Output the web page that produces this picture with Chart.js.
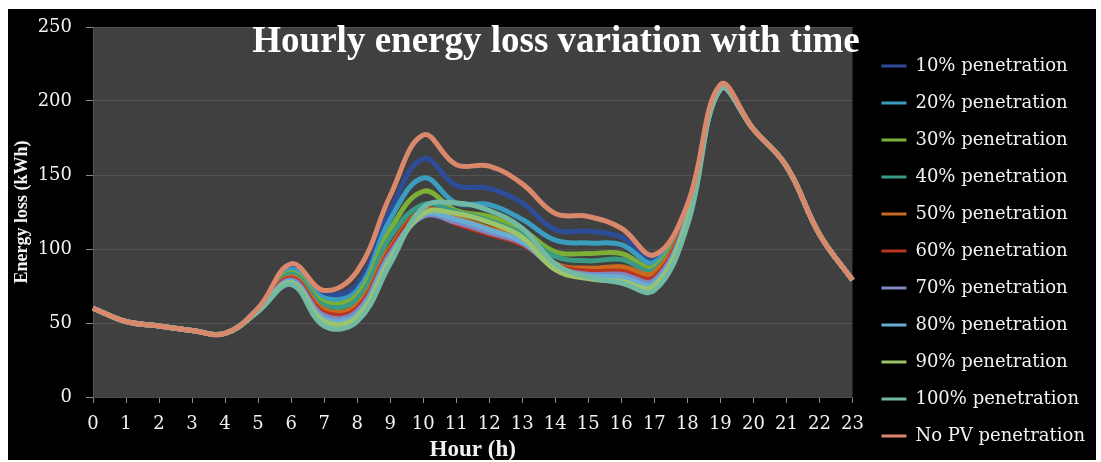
<!DOCTYPE html>
<html>
<head>
<meta charset="utf-8">
<script src="https://cdn.jsdelivr.net/npm/chart.js@4.4.0/dist/chart.umd.min.js"></script>
<style>
  html, body { margin: 0; padding: 0; background: #ffffff; }
  #frame { position: absolute; left: 8px; top: 9px; width: 1088px; height: 451px; background: #000000; }
  #c { display: block; }
</style>
</head>
<body>
<div id="frame"><canvas id="c" width="1088" height="451"></canvas></div>
<script>
// Hour of day (x categories)
const hours = ['0','1','2','3','4','5','6','7','8','9','10','11','12','13','14','15','16','17','18','19','20','21','22','23'];

// Hourly energy loss (kWh) for each PV penetration level
const pen10  = [60,51,48,45,43,60,87,70,76,126,161,143,141,131,113,112,108,94,128,209,181,156,110,79];
const pen20  = [60,51,48,45,43,60,86,67,72,120,148,131,130,120,106,104,103,91,127,209,181,156,110,79];
const pen30  = [60,51,48,45,43,59,84,64,69,113,139,126,122,113,98,97,97,88,126,209,181,156,110,79];
const pen40  = [60,51,48,45,43,59,83,62,66,108,130,125,119,110,95,92,93,86,125,209,181,156,110,79];
const pen50  = [60,51,48,45,43,59,81,59,62,101,126,121,114,107,90,87,88,84,124,209,181,156,110,79];
const pen60  = [60,51,48,45,43,59,80,57,60,99,125,117,110,103,89,85,85,81,123,209,181,156,110,79];
const pen70  = [60,51,48,45,43,58,79,55,58,97,122,118,111,104,88,83,83,79,122,208,181,156,110,79];
const pen80  = [60,51,48,45,43,58,78,53,56,95,123,120,113,105,87,82,81,77,121,208,181,156,110,79];
const pen90  = [60,51,48,45,43,58,77,51,54,93,124,124,118,108,86,80,78,75,119,208,181,156,110,79];
const pen100 = [60,51,48,45,43,58,76,48,51,90,128,131,126,114,90,81,77,72,116,208,181,156,110,79];
const noPV   = [60,51,48,45,43,60,90,72,85,136,177,157,156,144,124,122,114,96,130,211,181,156,110,79];

const seriesNames = ['10% penetration','20% penetration','30% penetration','40% penetration','50% penetration',
  '60% penetration','70% penetration','80% penetration','90% penetration','100% penetration','No PV penetration'];
const seriesData = [pen10, pen20, pen30, pen40, pen50, pen60, pen70, pen80, pen90, pen100, noPV];
const seriesColors = ['#2E4D98','#3A9CBF','#7BAF36','#3A9A84','#CB6A1E','#BA3422',
  '#7F86C0','#6AADD3','#9CC46A','#72B9A4','#D9886B'];

const TITLE_FONT = "'Liberation Serif', 'Times New Roman', serif";
const TEXT_FONT = "'DejaVu Serif', serif";
Chart.defaults.font.family = TEXT_FONT;
Chart.defaults.color = '#f2f2f2';

// Later series are painted on top (No PV uppermost)
const datasets = seriesNames.map((name, i) => ({
  label: name,
  data: seriesData[i],
  borderColor: seriesColors[i],
  backgroundColor: seriesColors[i],
  borderWidth: 5,
  pointRadius: 0,
  pointHoverRadius: 0,
  tension: 0.4,
  fill: false,
  order: seriesNames.length - i
}));

// Dark grey plotting area
const plotBackground = {
  id: 'plotBackground',
  beforeDraw(chart) {
    const { ctx, chartArea: a } = chart;
    ctx.save();
    ctx.fillStyle = '#404040';
    ctx.fillRect(a.left, a.top, a.right - a.left, a.bottom - a.top);
    ctx.restore();
  }
};

// Chart title sitting inside the top of the plot area
const insideTitle = {
  id: 'insideTitle',
  afterDraw(chart) {
    const { ctx } = chart;
    ctx.save();
    ctx.font = "bold 37px " + TITLE_FONT;
    ctx.fillStyle = '#ffffff';
    ctx.textAlign = 'center';
    ctx.textBaseline = 'alphabetic';
    ctx.fillText('Hourly energy loss variation with time', 548, 43);
    ctx.restore();
  }
};

new Chart(document.getElementById('c'), {
  type: 'line',
  data: { labels: hours, datasets },
  plugins: [plotBackground, insideTitle],
  options: {
    responsive: false,
    animation: false,
    devicePixelRatio: 1,
    layout: { padding: { top: 18, right: 1, bottom: -4, left: 0 } },
    plugins: {
      title: { display: false },
      tooltip: { enabled: false },
      legend: {
        display: true,
        position: 'right',
        align: 'end',
        maxWidth: 320,
        labels: {
          boxWidth: 25,
          boxHeight: 3,
          padding: 19,
          color: '#f2f2f2',
          font: { size: 18, family: TEXT_FONT },
          sort: (a, b) => a.datasetIndex - b.datasetIndex,
          generateLabels(chart) {
            return chart.data.datasets.map((ds, i) => ({
              text: ds.label,
              fillStyle: ds.borderColor,
              strokeStyle: ds.borderColor,
              lineWidth: 0,
              fontColor: '#f2f2f2',
              hidden: false,
              datasetIndex: i
            }));
          }
        }
      }
    },
    scales: {
      x: {
        type: 'category',
        offset: false,
        grid: { display: true, drawOnChartArea: false, drawTicks: true, tickLength: 6, tickColor: '#8a8a8a', offset: false },
        border: { display: true, color: '#4a4a4a' },
        ticks: { color: '#f2f2f2', font: { size: 18 }, padding: 11, maxRotation: 0, autoSkip: false },
        title: { display: true, text: 'Hour (h)', color: '#f2f2f2', font: { size: 23, weight: 'bold', family: TITLE_FONT }, padding: { top: 0, bottom: 0 } },
        afterFit(scale) { scale.height = 67; }
      },
      y: {
        type: 'linear',
        min: 0,
        max: 250,
        ticks: { stepSize: 50, color: '#f2f2f2', font: { size: 18 }, padding: 14 },
        grid: { color: '#525252', lineWidth: 1, tickLength: 7, tickColor: '#8a8a8a' },
        border: { display: true, color: '#555555' },
        title: { display: true, text: 'Energy loss (kWh)', color: '#f2f2f2', font: { size: 18, weight: 'bold', family: TITLE_FONT }, padding: { top: 4, bottom: 0 } },
        afterFit(scale) {
          scale.width = 85;
          scale.paddingTop = 0;
          scale.paddingBottom = 0;
        }
      },
      gap: {
        type: 'linear',
        position: 'right',
        display: true,
        min: 0,
        max: 1,
        ticks: { display: false },
        grid: { display: false },
        border: { display: false },
        afterFit(scale) { scale.width = 10; }
      }
    }
  }
});
</script>
</body>
</html>
